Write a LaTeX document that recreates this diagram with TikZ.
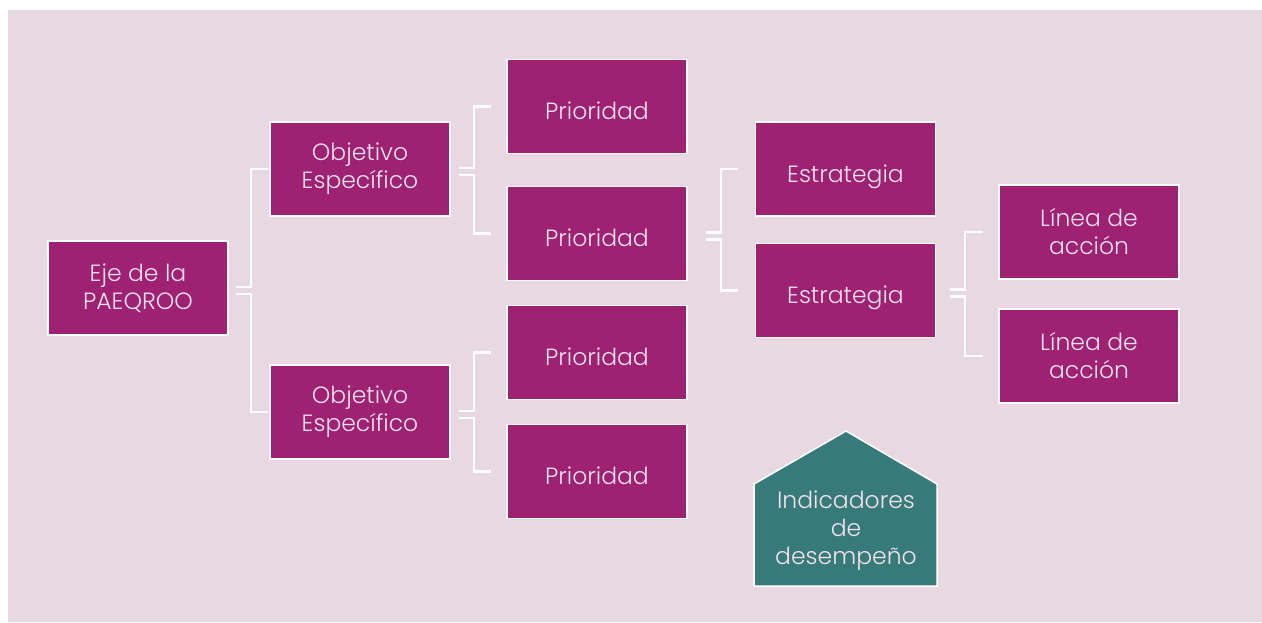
\documentclass[tikz,border=0pt]{standalone}
\usepackage{fontspec}
\setmainfont{Poppins}[UprightFont=* Light]
\usepackage{tikz}
\usetikzlibrary{calc}
\definecolor{bgpink}{HTML}{E8D8E2}
\definecolor{plum}{HTML}{9E2172}
\definecolor{tealbox}{HTML}{377A7A}
\definecolor{boxtext}{HTML}{F4E2EE}
\tikzstyle{box} = [rectangle,fill=plum,draw=white,line width=1.5pt,
minimum width=180pt, minimum height=94pt, inner sep=2pt, align=center,
text=boxtext, font=\fontsize{23.5}{28}\selectfont]
\tikzstyle{single} = [box, text height=26pt, text depth=0pt]
\tikzstyle{link} = [draw=white, line width=2.2pt]
\tikzstyle{indic} = [fill=tealbox,draw=white,line width=1.5pt]
\newcommand{\branch}[5]{ %
  % Split parent #1 into children #2 and #3, gaps #4 and #5.
  \draw[link] ($(#1.east)+(#4,-1)$) -- ++(15,0) |- ($(#2.west)+(-#5,0)$) ;%
  \draw[link] ($(#1.east)+(#4,6)$) -- ++(15,0) |- ($(#3.west)+(-#5,0)$) ;%
}

\begin{document}
\begin{tikzpicture}[x=1pt,y=-1pt]
  \useasboundingbox (0,0) rectangle (1262,622);
  \fill[bgpink] (8,10) rectangle (1262,622);
  \node[box](eje) at (138,288) {Eje de la\\PAEQROO};
  \node[box](obj1) at (360,169) {Objetivo\\Específico};
  \node[box](obj2) at (360,412) {Objetivo\\Específico};
  \node[single](prio1) at (597,106.5) {Prioridad};
  \node[single](prio2) at (597,233.5) {Prioridad};
  \node[single](prio3) at (597,352.5) {Prioridad};
  \node[single](prio4) at (597,471.5) {Prioridad};
  \node[single](estr1) at (845.5,169) {Estrategia};
  \node[single](estr2) at (845.5,290.5) {Estrategia};
  \node[box](lin1) at (1089,232) {Línea de\\acción};
  \node[box](lin2) at (1089,356) {Línea de\\acción};
  \branch{eje}{obj1}{obj2}{7}{1};
  \branch{obj1}{prio1}{prio2}{8}{15};
  \branch{obj2}{prio3}{prio4}{8}{15};
  \branch{prio2}{estr1}{estr2}{18}{17};
  \branch{estr2}{lin1}{lin2}{14}{15};
  \draw[indic] (754,586) -- (754,484) -- (846,431) -- (937,484) -- (937,586) -- cycle;
  \node[text=boxtext, align=center, font=\fontsize{23.5}{28}\selectfont](ind) at (846,531)
    {Indicadores\\de\\desempeño};
\end{tikzpicture}
\end{document}
